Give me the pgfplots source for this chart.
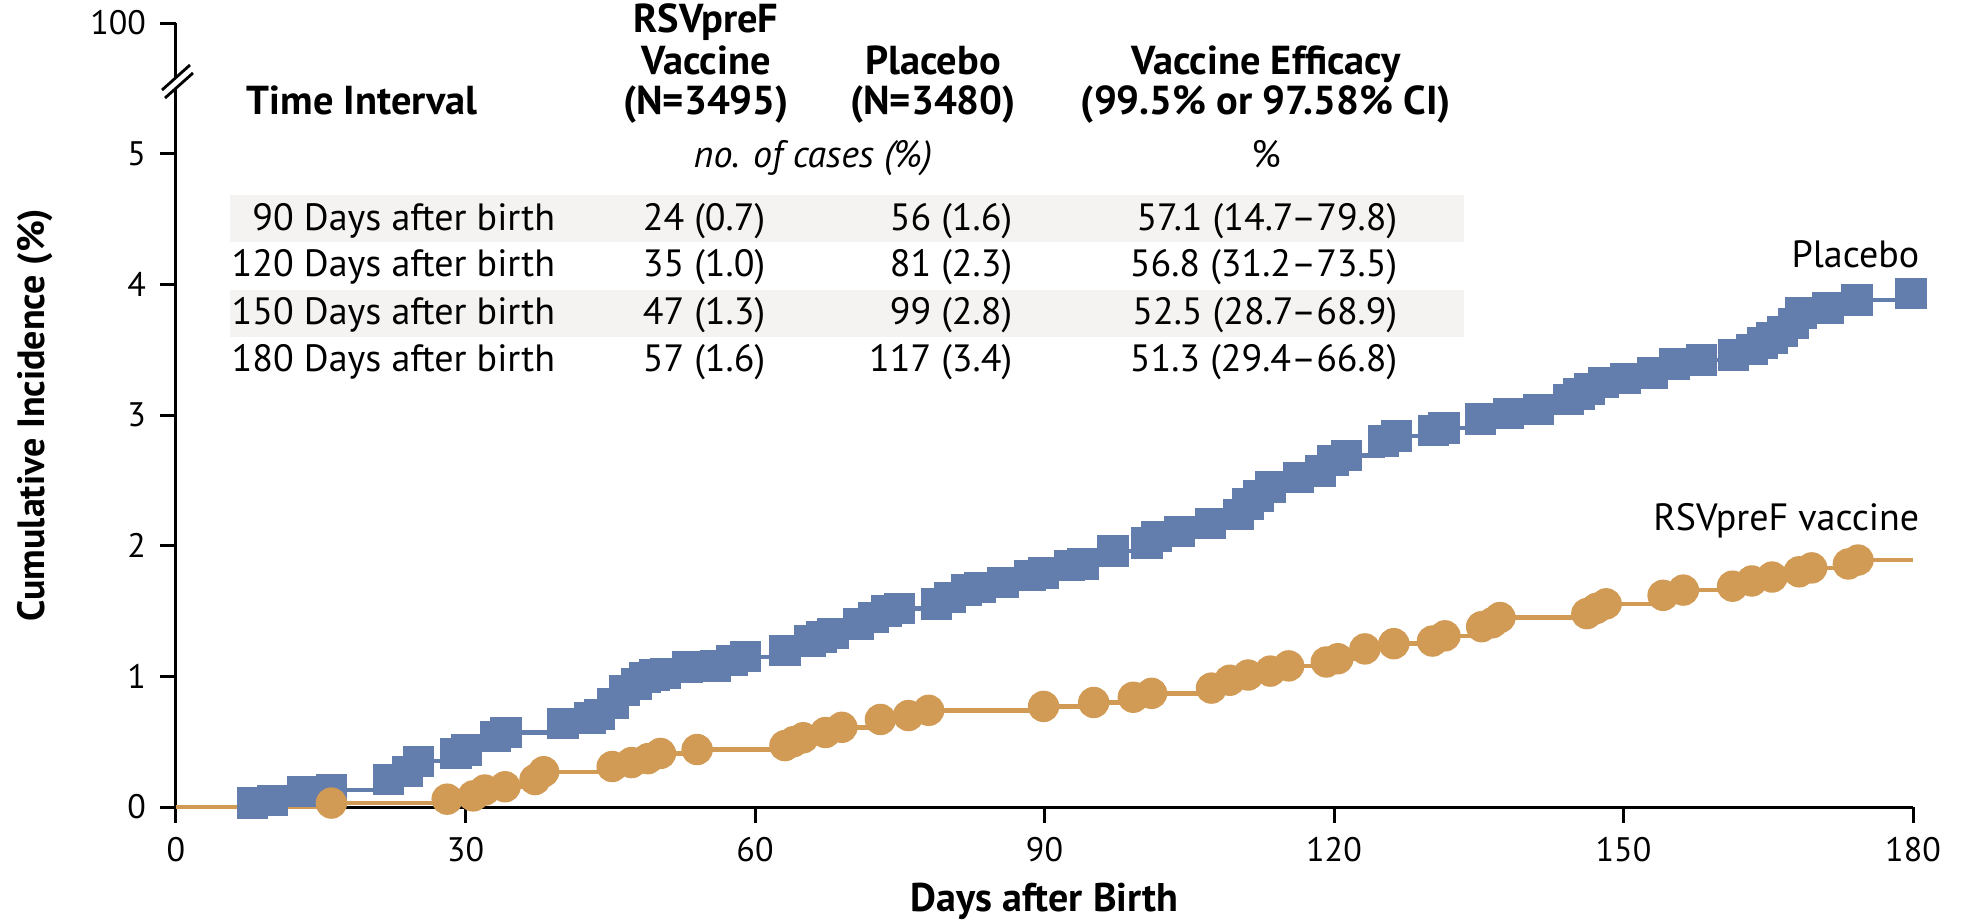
\documentclass[border=0pt]{standalone}
\usepackage{fontspec}
\setmainfont{PT Sans}
\usepackage{pgfplots}
\usepackage{pgfplotstable}
\pgfplotsset{compat=1.18}
\definecolor{pblue}{RGB}{99,125,173}
\definecolor{vorange}{RGB}{209,155,85}
\definecolor{rowgray}{RGB}{244,243,242}

\pgfplotstableread{
x y
7.9 0.03
10.0 0.05
13.1 0.12
16.1 0.13
22.0 0.21
24.0 0.27
25.1 0.35
29.0 0.41
30.1 0.435
33.1 0.54
34.2 0.57
40.1 0.64
42.9 0.68
43.9 0.71
45.3 0.79
46.5 0.89
47.7 0.94
48.6 0.99
49.6 1.01
50.7 1.02
53.0 1.07
55.9 1.08
57.6 1.12
59.0 1.15
63.1 1.20
65.7 1.27
66.9 1.30
68.1 1.33
70.7 1.40
72.3 1.45
73.6 1.50
75.0 1.52
78.8 1.555
80.2 1.605
81.9 1.66
83.3 1.68
85.7 1.72
88.5 1.77
89.9 1.79
92.6 1.85
94.0 1.86
97.1 1.96
100.6 2.02
101.6 2.07
104.0 2.11
107.2 2.17
110.1 2.24
111.1 2.32
112.2 2.38
113.4 2.45
116.3 2.52
118.6 2.57
119.9 2.65
121.3 2.69
125.1 2.80
126.5 2.84
130.3 2.88
131.4 2.90
135.2 2.97
138.1 3.01
141.2 3.04
144.3 3.12
145.4 3.16
146.5 3.20
147.9 3.25
150.2 3.28
153.0 3.32
155.3 3.39
158.1 3.42
161.4 3.46
163.3 3.50
164.4 3.55
165.4 3.59
166.5 3.64
167.6 3.70
168.4 3.78
171.2 3.82
174.2 3.88
179.8 3.93
}\placebo

\pgfplotstableread{
x y
16.1 0.03
28.1 0.06
30.8 0.085
32.0 0.13
34.1 0.155
37.2 0.21
38.1 0.27
45.2 0.31
47.2 0.34
48.9 0.37
50.2 0.41
54.0 0.44
63.1 0.47
64.0 0.50
65.0 0.53
67.3 0.57
69.0 0.61
73.0 0.67
75.9 0.70
78.0 0.74
89.9 0.77
95.1 0.80
99.2 0.84
101.1 0.87
107.3 0.91
109.2 0.97
111.1 1.01
113.4 1.04
115.3 1.08
119.2 1.11
120.4 1.135
123.2 1.21
126.2 1.25
130.2 1.27
131.5 1.31
135.3 1.38
136.4 1.41
137.2 1.45
146.2 1.48
147.2 1.52
148.2 1.555
154.1 1.62
156.2 1.66
161.3 1.69
163.3 1.73
165.4 1.76
168.2 1.80
169.5 1.83
173.3 1.86
174.3 1.89
}\vaccine

\begin{document}
\begin{tikzpicture}
% table row shading (pixel frame)
\begin{scope}[x=0.25pt,y=-0.25pt,shift={(-44pt,201.75pt)}]
\fill[rowgray] (230,195) rectangle (1464,242);
\fill[rowgray] (230,290) rectangle (1464,337);
\end{scope}

\begin{axis}[
  width=434.25pt, height=196pt, scale only axis,
  xmin=0, xmax=180, ymin=0, ymax=6,
  axis lines=left,
  axis line style={-, line width=0.75pt},
  every outer x axis line/.append style={-},
  every outer y axis line/.append style={-},
  xtick={0,30,60,90,120,150,180},
  ytick={0,1,2,3,4,5,6},
  yticklabels={0,1,2,3,4,5,100},
  tick align=outside,
  major tick length=4pt,
  tick style={line width=0.75pt, black},
  /pgf/number format/assume math mode=true,
  tick label style={font=\fontsize{8.5}{10}\selectfont},
  xlabel={Days after Birth},
  ylabel={Cumulative Incidence (\%)},
  every axis x label/.style={at={(axis description cs:0.5,-0.12)}, anchor=center,
    font=\bfseries\fontsize{10}{12}\selectfont},
  every axis y label/.style={at={(axis description cs:-0.081,0.5)}, rotate=90, anchor=center,
    font=\bfseries\fontsize{9.5}{11}\selectfont},
  clip=false,
]
% placebo
\addplot[pblue, line width=1.1pt] coordinates {(0,0) (7.9,0) (7.9,0.03)};
\addplot[const plot, pblue, line width=1.1pt, mark=square*, mark size=3.375pt,
  mark options={draw=none, fill=pblue}] table {\placebo};
\addplot[pblue, line width=1.1pt] coordinates {(179.8,3.93) (180,3.93)};
% vaccine
\addplot[vorange, line width=1.1pt] coordinates {(0,0) (16.1,0) (16.1,0.03)};
\addplot[const plot, vorange, line width=1.1pt, mark=*, mark size=3.375pt,
  mark options={draw=none, fill=vorange}] table {\vaccine};
\addplot[vorange, line width=1.1pt] coordinates {(174.3,1.89) (180,1.89)};
\end{axis}

\begin{scope}[x=0.25pt,y=-0.25pt,shift={(-44pt,201.75pt)}]
% axis break
\fill[white] (162,90) -- (190,65) -- (193,73) -- (165,98) -- cycle;
\draw[line width=0.7pt] (162,90) -- (190,65);
\draw[line width=0.7pt] (165,98) -- (193,73);
% header
\begin{scope}[every node/.style={font=\bfseries\fontsize{10.1}{12}\selectfont, inner sep=0pt}]
\node[anchor=base west] at (246,115) {Time Interval};
\node[anchor=base] at (706,33) {RSVpreF};
\node[anchor=base] at (706,75) {Vaccine};
\node[anchor=base] at (706,115) {(N=3495)};
\node[anchor=base] at (933,75) {Placebo};
\node[anchor=base] at (933,115) {(N=3480)};
\node[anchor=base] at (1266,75) {Vaccine Efficacy};
\node[anchor=base] at (1266,115) {(99.5\% or 97.58\% CI)};
\end{scope}
\begin{scope}[every node/.style={font=\fontsize{9.5}{11}\selectfont, inner sep=0pt}]
\node[anchor=base, font=\itshape\fontsize{9.5}{11}\selectfont] at (813,167) {no. of cases (\%)};
\node[anchor=base] at (1266,167) {\%};
\node[anchor=base east] at (556,230) {90 Days after birth};
\node[anchor=base east] at (556,277) {120 Days after birth};
\node[anchor=base east] at (556,324) {150 Days after birth};
\node[anchor=base east] at (556,371) {180 Days after birth};
\node[anchor=base east] at (766,230) {24 (0.7)};
\node[anchor=base east] at (766,277) {35 (1.0)};
\node[anchor=base east] at (766,324) {47 (1.3)};
\node[anchor=base east] at (766,371) {57 (1.6)};
\node[anchor=base east] at (1013,230) {56 (1.6)};
\node[anchor=base east] at (1013,277) {81 (2.3)};
\node[anchor=base east] at (1013,324) {99 (2.8)};
\node[anchor=base east] at (1013,371) {117 (3.4)};
\node[anchor=base east] at (1398,230) {57.1 (14.7--79.8)};
\node[anchor=base east] at (1398,277) {56.8 (31.2--73.5)};
\node[anchor=base east] at (1398,324) {52.5 (28.7--68.9)};
\node[anchor=base east] at (1398,371) {51.3 (29.4--66.8)};
\node[anchor=base east] at (1920,267) {Placebo};
\node[anchor=base east] at (1920,530) {RSVpreF vaccine};
\end{scope}
\end{scope}
\pgfresetboundingbox
\path[use as bounding box] (-44pt,-29pt) rectangle (448pt,201.75pt);
\end{tikzpicture}
\end{document}
